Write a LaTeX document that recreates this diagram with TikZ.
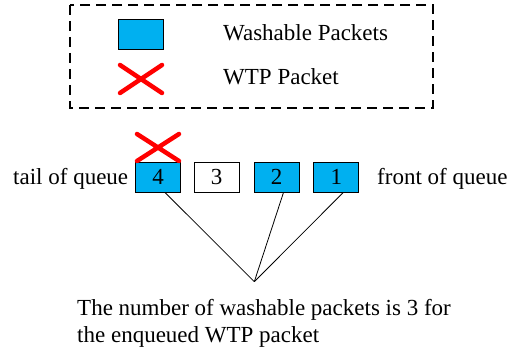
\documentclass[tikz,border=0pt]{standalone}
\usepackage{fontspec}
\newfontfamily\tnr{LiberationSerif}[UprightFont=*-Regular, Extension=.ttf]
\definecolor{wblue}{HTML}{00B0F0}
\definecolor{wred}{HTML}{FF0000}
\begin{document}
\begin{tikzpicture}[x=1pt,y=-1pt,
  every node/.style={font=\tnr\fontsize{23}{27}\selectfont, inner sep=0pt},
  pkt/.style={draw=black, line width=0.9pt, minimum width=45pt, minimum height=30pt},
  washable/.style={pkt, fill=wblue},
  plain/.style={pkt, fill=white},
  wtpx/.style={draw=wred, line width=4.5pt, line cap=round},
  legendbox/.style={draw=black, line width=2.5pt, dash pattern=on 10pt off 6pt},
  link/.style={draw=black, line width=0.8pt}]
\useasboundingbox (0,0) rectangle (516,347);
% legend
\draw[legendbox] (70,5) rectangle (433,108);
\node[washable, anchor=north west] (lgb) at (118,19) {};
\node[anchor=base west] (lgbt) at (223,40.7) {Washable Packets};
\coordinate (lgx1) at (120,65);
\coordinate (lgx2) at (162,93);
\coordinate (lgx3) at (120,93);
\coordinate (lgx4) at (162,65);
\draw[wtpx] (lgx1) -- (lgx2) (lgx3) -- (lgx4);
\node[anchor=base west] (lgxt) at (223,85) {WTP Packet};
% queue
\node[anchor=base west] (tail) at (13,185) {tail of queue};
\node[washable] (b4) at (158,177) {};
\node[plain] (b3) at (216.7,177) {};
\node[washable] (b2) at (276.5,177) {};
\node[washable] (b1) at (336.3,177) {};
\node[anchor=base] (n4) at (158,185) {4};
\node[anchor=base] (n3) at (216.7,185) {3};
\node[anchor=base] (n2) at (276.5,185) {2};
\node[anchor=base] (n1) at (336.3,185) {1};
\node[anchor=base west] (front) at (377,185) {front of queue};
% WTP cross on packet 4
\coordinate (qx1) at (137,134);
\coordinate (qx2) at (179,161);
\coordinate (qx3) at (137,161);
\coordinate (qx4) at (179,134);
\draw[wtpx] (qx1) -- (qx2) (qx3) -- (qx4);
% connectors
\coordinate (apex) at (254.3,281.7);
\draw[link] ([xshift=7pt]b4.south) -- (apex);
\draw[link] ([xshift=7pt]b2.south) -- (apex);
\draw[link] ([xshift=7pt]b1.south) -- (apex);
\node[anchor=north west, align=left] (note) at (77,299.5) {The number of washable packets is 3 for\\the enqueued WTP packet};
\end{tikzpicture}
\end{document}
